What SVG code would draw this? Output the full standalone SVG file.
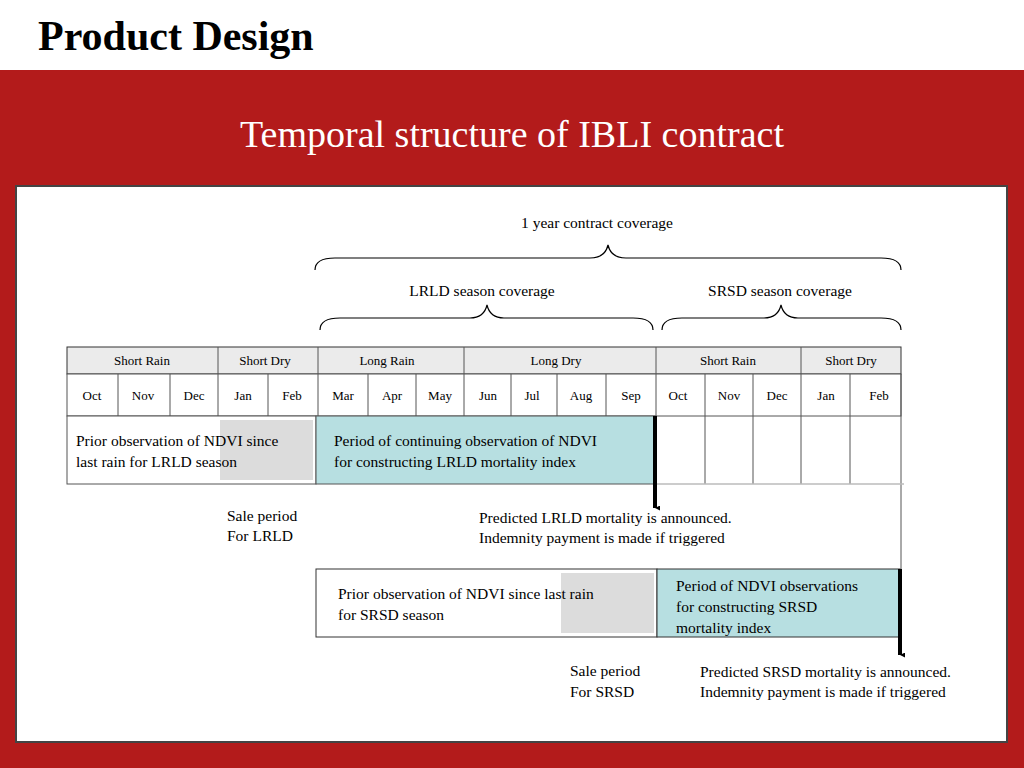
<svg xmlns="http://www.w3.org/2000/svg" width="1024" height="768" viewBox="0 0 1024 768">
<style>
.t{font-family:"Liberation Serif",serif;fill:#000}
.s{font-size:13px;text-anchor:middle}
.m{font-size:13px;text-anchor:middle}
.b{font-size:15.5px}
.ln{stroke:#555;stroke-width:1;fill:none}
.br{stroke:#000;stroke-width:1.2;fill:none}
</style>
<defs><marker id="ah" viewBox="0 0 10 10" refX="5" refY="10" markerWidth="5" markerHeight="5" orient="auto-start-reverse" markerUnits="userSpaceOnUse"><path d="M0,0L10,0L5,10z" fill="#000"/></marker></defs>
<rect width="1024" height="768" fill="#b31b1b"/>
<rect width="1024" height="70" fill="#fff"/>
<text x="38" y="50" font-family="Liberation Serif,serif" font-size="42" font-weight="bold">Product Design</text>
<text x="512" y="147" font-family="Liberation Serif,serif" font-size="38" fill="#fff" text-anchor="middle">Temporal structure of IBLI contract</text>
<rect x="16" y="186" width="991" height="556" fill="#fff" stroke="#444" stroke-width="2"/>
<g id="braces">
<text class="t b" x="597" y="228" text-anchor="middle">1 year contract coverage</text>
<path class="br" d="M315,270 Q315,258 335,258 L590,258 Q605,258 608,245 Q611,258 626,258 L881,258 Q901,258 901,270"/>
<text class="t b" x="482" y="296" text-anchor="middle">LRLD season coverage</text>
<path class="br" d="M320,330 Q320,318 340,318 L470,318 Q484,318 487,305 Q490,318 504,318 L633,318 Q653,318 653,330"/>
<text class="t b" x="780" y="296" text-anchor="middle">SRSD season coverage</text>
<path class="br" d="M662,330 Q662,318 682,318 L764,318 Q778,318 781,305 Q784,318 798,318 L881,318 Q901,318 901,330"/>
</g>
<g id="table">
<rect x="67" y="347" width="834" height="27" fill="#ebebeb" stroke="#333"/>
<rect x="67" y="374" width="834" height="42" fill="#fff" stroke="#555"/>
<path class="ln" d="M218,347V416M318,347V416M464,347V416M656,347V416M801,347V416"/>
<path class="ln" d="M118,374V416M170,374V416M268,374V416M368,374V416M416,374V416M511,374V416M557,374V416M606,374V416M705,374V484M753,374V484M850,374V484M801,416V484M901,374V569"/>
<g class="t s">
<text x="142" y="365">Short Rain</text><text x="265" y="365">Short Dry</text><text x="387" y="365">Long Rain</text><text x="556" y="365">Long Dry</text><text x="728" y="365">Short Rain</text><text x="851" y="365">Short Dry</text>
</g>
<g class="t m">
<text x="92" y="400">Oct</text><text x="143" y="400">Nov</text><text x="194" y="400">Dec</text><text x="243" y="400">Jan</text><text x="292" y="400">Feb</text><text x="343" y="400">Mar</text><text x="392" y="400">Apr</text><text x="440" y="400">May</text><text x="488" y="400">Jun</text><text x="532" y="400">Jul</text><text x="581" y="400">Aug</text><text x="631" y="400">Sep</text><text x="678" y="400">Oct</text><text x="729" y="400">Nov</text><text x="777" y="400">Dec</text><text x="826" y="400">Jan</text><text x="879" y="400">Feb</text>
</g>
<path d="M655,484H904" stroke="#bbb" stroke-width="1.5"/>
</g>
<g id="lrld">
<rect x="67" y="416" width="249" height="68" fill="#fff" stroke="#555"/>
<rect x="220" y="420" width="93" height="60" fill="#dcdcdc"/>
<rect x="316" y="416" width="339" height="68" fill="#b7dfe1" stroke="#555"/>
<text class="t b" x="76" y="446">Prior observation of NDVI since</text>
<text class="t b" x="76" y="467">last rain for LRLD season</text>
<text class="t b" x="334" y="446">Period of continuing observation of  NDVI</text>
<text class="t b" x="334" y="467">for constructing LRLD mortality index</text>
</g>
<g id="srsd">
<rect x="316" y="569" width="341" height="68" fill="#fff" stroke="#333"/>
<rect x="561" y="573" width="93" height="60" fill="#dcdcdc"/>
<rect x="657" y="569" width="243" height="68" fill="#b7dfe1" stroke="#333"/>
<text class="t b" x="338" y="599">Prior observation of NDVI since last rain</text>
<text class="t b" x="338" y="620">for SRSD season</text>
<text class="t b" x="676" y="591">Period of NDVI observations</text>
<text class="t b" x="676" y="612">for constructing SRSD</text>
<text class="t b" x="676" y="633">mortality index</text>
</g>
<g id="connectors">
<line x1="655" y1="416" x2="655" y2="508" stroke="#000" stroke-width="4" marker-end="url(#ah)"/>
<line x1="900" y1="569" x2="900" y2="655" stroke="#000" stroke-width="4" marker-end="url(#ah)"/>
</g>
<marker/>
<g id="labels">
<text class="t b" x="227" y="521">Sale period</text>
<text class="t b" x="227" y="541">For LRLD</text>
<text class="t b" x="479" y="523">Predicted LRLD mortality is announced.</text>
<text class="t b" x="479" y="543">Indemnity payment is made if triggered</text>
<text class="t b" x="570" y="676">Sale period</text>
<text class="t b" x="570" y="697">For SRSD</text>
<text class="t b" x="700" y="677">Predicted SRSD mortality is announced.</text>
<text class="t b" x="700" y="697">Indemnity payment is made if triggered</text>
</g>
</svg>
